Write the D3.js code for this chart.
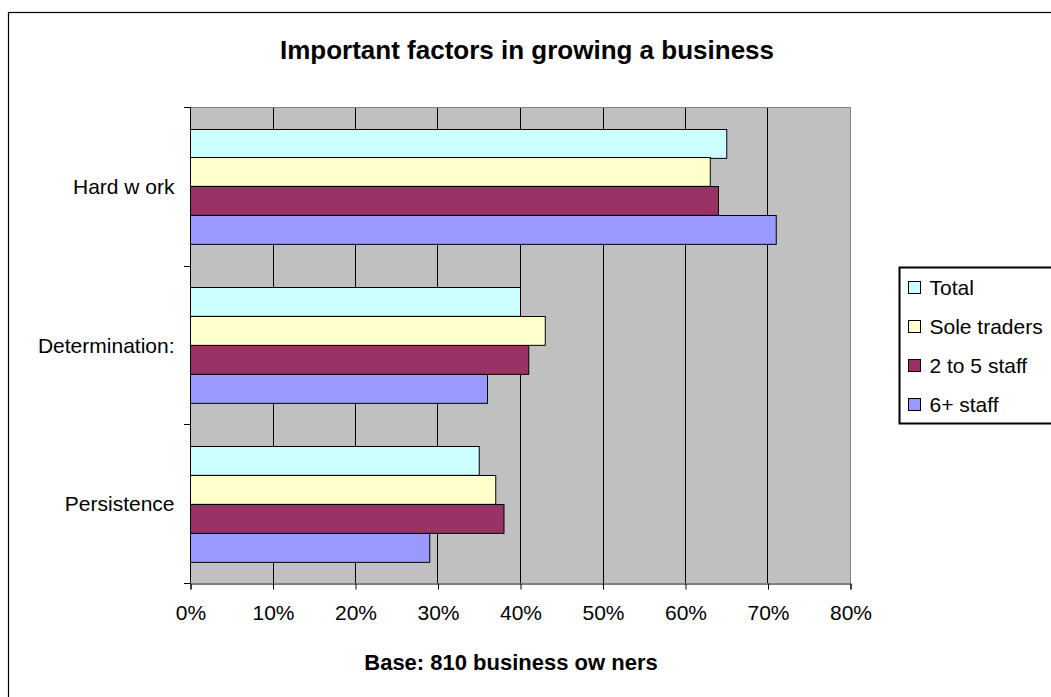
<!DOCTYPE html>
<html>
<head>
<meta charset="utf-8">
<script src="https://cdn.jsdelivr.net/npm/d3@7"></script>
<style>
  html, body { margin: 0; padding: 0; background: #fff; }
  svg { display: block; font-family: "Liberation Sans", Arial, sans-serif; }
</style>
</head>
<body>
<svg id="chart" width="1051" height="697"></svg>
<script>
// Survey results: share of business owners naming each factor
const categories = ["Hard w ork", "Determination:", "Persistence"];
const seriesNames = ["Total", "Sole traders", "2 to 5 staff", "6+ staff"];
const totalValues = [0.65, 0.40, 0.35];
const soleTraderValues = [0.63, 0.43, 0.37];
const staff2to5Values = [0.64, 0.41, 0.38];
const staff6plusValues = [0.71, 0.36, 0.29];
const seriesColors = ["#CCFFFF", "#FFFFCC", "#993366", "#9999FF"];
const xTickValues = [0, 0.1, 0.2, 0.3, 0.4, 0.5, 0.6, 0.7, 0.8];
const titleText = "Important factors in growing a business";
const xAxisTitle = "Base: 810 business ow ners";

const seriesValues = [totalValues, soleTraderValues, staff2to5Values, staff6plusValues];

const svg = d3.select("#chart");

// chart frame (runs off the right and bottom edges)
svg.append("rect")
  .attr("x", 8.5).attr("y", 12.5)
  .attr("width", 1100).attr("height", 720)
  .attr("fill", "#fff").attr("stroke", "#000").attr("stroke-width", 1.2);

const plot = { left: 190, right: 850, top: 107, bottom: 583 };

const x = d3.scaleLinear().domain([0, 0.8]).range([plot.left, plot.right]);
const y0 = d3.scaleBand().domain(categories).range([plot.top, plot.bottom]).padding(0);
const y1 = d3.scaleBand().domain(seriesNames).range([0, y0.bandwidth()])
  .paddingInner(0).paddingOuter(0.75);

// plot background
svg.append("rect")
  .attr("x", plot.left).attr("y", plot.top)
  .attr("width", plot.right - plot.left).attr("height", plot.bottom - plot.top)
  .attr("fill", "#C0C0C0");

// vertical gridlines
svg.append("g")
  .selectAll("line")
  .data(xTickValues.filter(v => v > 0 && v < 0.8))
  .join("line")
  .attr("x1", d => Math.round(x(d)) + 0.5).attr("x2", d => Math.round(x(d)) + 0.5)
  .attr("y1", plot.top).attr("y2", plot.bottom)
  .attr("stroke", "#000").attr("stroke-width", 1);

// plot border (top and right in grey)
svg.append("path")
  .attr("d", `M${plot.left},${plot.top + 0.5}H${plot.right + 0.5}V${plot.bottom}`)
  .attr("fill", "none").attr("stroke", "#808080").attr("stroke-width", 1);

// bars
const rows = [];
categories.forEach((c, ci) => {
  seriesNames.forEach((s, si) => {
    rows.push({ category: c, series: s, value: seriesValues[si][ci], color: seriesColors[si] });
  });
});

svg.append("g")
  .selectAll("rect")
  .data(rows)
  .join("rect")
  .attr("x", x(0) + 0.5)
  .attr("y", d => Math.round(y0(d.category) + y1(d.series)) + 0.5)
  .attr("width", d => x(d.value) - x(0))
  .attr("height", y1.bandwidth())
  .attr("fill", d => d.color)
  .attr("stroke", "#000").attr("stroke-width", 1);

// x axis
const xAxis = d3.axisBottom(x)
  .tickValues(xTickValues)
  .tickFormat(d3.format(".0%"))
  .tickSize(6)
  .tickPadding(16);

const gx = svg.append("g")
  .attr("transform", `translate(0.5,${plot.bottom + 0.5})`)
  .call(xAxis);
gx.select(".domain").attr("stroke", "#000");
gx.selectAll(".tick line").attr("stroke", "#000");
gx.selectAll(".tick text")
  .attr("font-size", 21).attr("fill", "#000")
  .attr("font-family", "Liberation Sans, Arial, sans-serif");

// y axis: labels centred on each category, ticks at band boundaries
const yAxis = d3.axisLeft(y0).tickSize(0).tickPadding(16);
const gy = svg.append("g")
  .attr("transform", `translate(${plot.left + 0.5},1)`)
  .call(yAxis);
gy.select(".domain").remove();
gy.selectAll(".tick text")
  .attr("font-size", 21).attr("fill", "#000")
  .attr("font-family", "Liberation Sans, Arial, sans-serif");

svg.append("line")
  .attr("x1", plot.left + 0.5).attr("x2", plot.left + 0.5)
  .attr("y1", plot.top).attr("y2", plot.bottom + 0.5)
  .attr("stroke", "#000");

const boundaries = categories.map(c => y0(c)).concat([plot.bottom]);
svg.append("g")
  .selectAll("line")
  .data(boundaries)
  .join("line")
  .attr("x1", plot.left - 6).attr("x2", plot.left)
  .attr("y1", d => Math.round(d) + 0.5).attr("y2", d => Math.round(d) + 0.5)
  .attr("stroke", "#000");

// title
svg.append("text")
  .attr("x", 527).attr("y", 59)
  .attr("text-anchor", "middle")
  .attr("font-size", 26).attr("font-weight", "bold")
  .text(titleText);

// x axis title
svg.append("text")
  .attr("x", 511).attr("y", 670)
  .attr("text-anchor", "middle")
  .attr("font-size", 22).attr("font-weight", "bold")
  .text(xAxisTitle);

// legend
const legend = svg.append("g").attr("transform", "translate(899.5,267.5)");
legend.append("rect")
  .attr("width", 200).attr("height", 156)
  .attr("fill", "#fff").attr("stroke", "#000").attr("stroke-width", 2);

const item = legend.selectAll("g.item")
  .data(seriesNames)
  .join("g")
  .attr("class", "item")
  .attr("transform", (d, i) => `translate(9,${20 + i * 39})`);
item.append("rect")
  .attr("x", 0).attr("y", -6).attr("width", 12).attr("height", 12)
  .attr("fill", (d, i) => seriesColors[i]).attr("stroke", "#000");
item.append("text")
  .attr("x", 21).attr("y", 0).attr("dy", "0.35em")
  .attr("font-size", 21)
  .text(d => d);
</script>
</body>
</html>
